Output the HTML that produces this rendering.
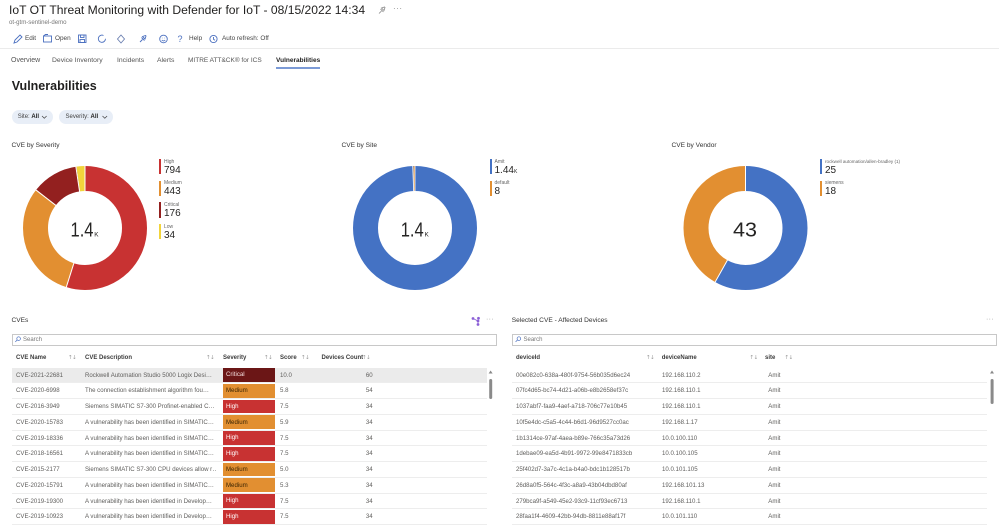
<!DOCTYPE html>
<html><head><meta charset="utf-8">
<style>
html,body{margin:0;padding:0;background:#fff;}
body{width:999px;height:526px;overflow:hidden;position:relative;font-family:"Liberation Sans","DejaVu Sans",sans-serif;}
.t{position:absolute;white-space:nowrap;}
.row{position:absolute;height:15.75px;border-bottom:1px solid #ededed;box-sizing:border-box;font-size:6.1px;color:#5f5e5c;}
.row span{position:absolute;top:0;line-height:15px;white-space:nowrap;}
.hd{position:absolute;font-size:6px;font-weight:bold;color:#3b3b3b;line-height:10px;top:353px;white-space:nowrap;}
.so{position:absolute;font-size:5.5px;color:#999;line-height:10px;top:353px;font-family:"DejaVu Sans",sans-serif;letter-spacing:-0.5px;}
.row span.bd{top:0.7px;height:13.6px;width:52px;line-height:normal;display:flex;align-items:center;padding-left:3px;box-sizing:border-box;}
.cr{background:#6b1616;color:#f3dede;}
.md{background:#e28f31;color:#3b2503;}
.hi{background:#c83232;color:#fff;}
.lg{position:absolute;font-size:5px;color:#666;line-height:6px;white-space:nowrap;}
.lv{position:absolute;font-size:10px;color:#252423;line-height:10px;white-space:nowrap;}
.bar{position:absolute;width:2px;height:15.3px;}
</style></head><body>

<!-- Header -->
<div class="t" style="left:9px;top:3px;font-size:12.1px;line-height:14px;color:#201f1e;">IoT OT Threat Monitoring with Defender for IoT - 08/15/2022 14:34</div>
<div class="t" style="left:9px;top:18.5px;font-size:6.1px;line-height:7px;color:#777;">ot-gtm-sentinel-demo</div>
<div class="t" style="left:393px;top:4px;font-size:8px;line-height:10px;color:#888;letter-spacing:0.5px;">···</div>

<!-- toolbar text -->
<div class="t" style="left:25px;top:35px;font-size:6.4px;line-height:8px;color:#444;">Edit</div>
<div class="t" style="left:55px;top:35px;font-size:6.4px;line-height:8px;color:#444;">Open</div>
<div class="t" style="left:177.5px;top:33.5px;font-size:9px;line-height:11px;color:#4a6fbf;">?</div>
<div class="t" style="left:189px;top:35px;font-size:6.4px;line-height:8px;color:#444;">Help</div>
<div class="t" style="left:222px;top:35px;font-size:6.4px;line-height:8px;color:#444;">Auto refresh: Off</div>
<div style="position:absolute;left:0;top:47.5px;width:999px;height:1px;background:#ebebeb;"></div>

<!-- tabs -->
<div class="t" style="left:11px;top:57px;font-size:7px;line-height:8px;color:#555;">Overview</div>
<div class="t" style="left:52px;top:57px;font-size:6.8px;line-height:8px;color:#555;">Device Inventory</div>
<div class="t" style="left:117px;top:57px;font-size:6.8px;line-height:8px;color:#555;">Incidents</div>
<div class="t" style="left:157px;top:57px;font-size:6.8px;line-height:8px;color:#555;">Alerts</div>
<div class="t" style="left:188px;top:57px;font-size:6.5px;line-height:8px;color:#555;">MITRE ATT&amp;CK® for ICS</div>
<div class="t" style="left:276px;top:57px;font-size:6.5px;line-height:8px;color:#222;font-weight:bold;">Vulnerabilities</div>
<div style="position:absolute;left:276px;top:67px;width:44px;height:1.5px;background:#7b9ad6;"></div>

<!-- heading -->
<div class="t" style="left:11.7px;top:79px;font-size:12.5px;line-height:15px;color:#201f1e;font-weight:bold;">Vulnerabilities</div>

<!-- pills -->
<div style="position:absolute;left:11.7px;top:110px;width:41.6px;height:14.3px;border-radius:7px;background:#e8eef7;"></div>
<div class="t" style="left:17.7px;top:113.5px;font-size:6px;line-height:7px;color:#444;">Site: <b style="color:#222">All</b></div>
<div style="position:absolute;left:59.3px;top:110px;width:54px;height:14.3px;border-radius:7px;background:#e8eef7;"></div>
<div class="t" style="left:65.5px;top:113.5px;font-size:6px;line-height:7px;color:#444;">Severity: <b style="color:#222">All</b></div>

<!-- chart titles -->
<div class="t" style="left:11.5px;top:142px;font-size:6.6px;line-height:8px;color:#333;">CVE by Severity</div>
<div class="t" style="left:341.5px;top:142px;font-size:6.6px;line-height:8px;color:#333;">CVE by Site</div>
<div class="t" style="left:671.5px;top:142px;font-size:6.6px;line-height:8px;color:#333;">CVE by Vendor</div>

<!-- legends severity -->
<div class="bar" style="left:159.3px;top:159px;background:#c83232;"></div>
<div class="lg" style="left:164px;top:158.7px;">High</div>
<div class="lv" style="left:164px;top:165.7px;">794</div>
<div class="bar" style="left:159.3px;top:180.7px;background:#e28f31;"></div>
<div class="lg" style="left:164px;top:180.4px;">Medium</div>
<div class="lv" style="left:164px;top:187.4px;">443</div>
<div class="bar" style="left:159.3px;top:202.4px;background:#93201f;"></div>
<div class="lg" style="left:164px;top:202.1px;">Critical</div>
<div class="lv" style="left:164px;top:209.1px;">176</div>
<div class="bar" style="left:159.3px;top:224.1px;background:#f2d43b;"></div>
<div class="lg" style="left:164px;top:223.8px;">Low</div>
<div class="lv" style="left:164px;top:230.8px;">34</div>

<!-- legends site -->
<div class="bar" style="left:489.5px;top:159px;background:#4472c4;"></div>
<div class="lg" style="left:494.5px;top:158.7px;">Amit</div>
<div class="lv" style="left:494.5px;top:165.7px;">1.44<span style="font-size:5px;">K</span></div>
<div class="bar" style="left:489.5px;top:180.7px;background:#e28f31;"></div>
<div class="lg" style="left:494.5px;top:180.4px;">default</div>
<div class="lv" style="left:494.5px;top:187.4px;">8</div>

<!-- legends vendor -->
<div class="bar" style="left:819.8px;top:159px;background:#4472c4;"></div>
<div class="lg" style="left:825px;top:158.7px;font-size:4.6px;">rockwell automation/allen-bradley (1)</div>
<div class="lv" style="left:825px;top:165.7px;">25</div>
<div class="bar" style="left:819.8px;top:180.7px;background:#e28f31;"></div>
<div class="lg" style="left:825px;top:180.4px;">siemens</div>
<div class="lv" style="left:825px;top:187.4px;">18</div>

<svg width="999" height="526" style="position:absolute;left:0;top:0;" xmlns="http://www.w3.org/2000/svg">
  <!-- toolbar icons -->
  <g fill="none" stroke="#4a6fbf" stroke-width="0.9">
    <path d="M14 43 L15 40 L20 35 L22 37 L17 42 Z"/>
    <rect x="43.5" y="36" width="8" height="6" />
    <path d="M43.5 36 L45.5 34.5 L48 34.5"/>
    <rect x="78.5" y="35" width="7.5" height="7.5"/>
    <rect x="80.5" y="35" width="3.5" height="2.5"/>
    <rect x="80" y="39.5" width="4.5" height="3"/>
    <path d="M105.5 38.8 A3.6 3.6 0 1 1 103.5 35.5"/>
    <path d="M121 35 L124.5 39 L121 43 L117.5 39 Z" stroke="#6a7fb0"/>
    <path d="M140 42 L142.5 39.5 M141.5 37.5 L144.5 40.5 M142.5 36.5 L145.5 35.5 L146 36 L145 39 Z"/>
    <circle cx="163.5" cy="39" r="3.8"/>
    <path d="M161.8 40 Q163.5 41.8 165.2 40"/>
    <circle cx="213.5" cy="39" r="3.6"/>
    <path d="M213.5 37 L213.5 39.2 L215 40.2"/>
  </g>
  <circle cx="162.2" cy="38" r="0.4" fill="#4a6fbf"/>
  <circle cx="164.8" cy="38" r="0.4" fill="#4a6fbf"/>
  <!-- title pin -->
  <path d="M379 13.5 L381.5 11 M380.5 9 L383.5 12 M381.5 8 L384.5 7 L385 7.5 L384 10.5 Z" fill="none" stroke="#888" stroke-width="0.8"/>
  <!-- pill chevrons -->
  <path d="M42 116 L44.3 118.3 L46.6 116" fill="none" stroke="#444" stroke-width="0.7"/>
  <path d="M102.5 116 L104.8 118.3 L107.1 116" fill="none" stroke="#444" stroke-width="0.7"/>

  <!-- Severity donut -->
  <g transform="rotate(-90 85 228)" fill="none" stroke-width="25">
    <circle cx="85" cy="228" r="49.5" stroke="#c83232" stroke-dasharray="170.66 400" stroke-dashoffset="0"/>
    <circle cx="85" cy="228" r="49.5" stroke="#e28f31" stroke-dasharray="95.22 400" stroke-dashoffset="-170.66"/>
    <circle cx="85" cy="228" r="49.5" stroke="#93201f" stroke-dasharray="37.83 400" stroke-dashoffset="-265.88"/>
    <circle cx="85" cy="228" r="49.5" stroke="#f2d43b" stroke-dasharray="7.31 400" stroke-dashoffset="-303.71"/>
    <g stroke="#fff" stroke-width="1">
      <line x1="121" y1="228" x2="148" y2="228" transform="rotate(0 85 228)"/>
      <line x1="121" y1="228" x2="148" y2="228" transform="rotate(197.54 85 228)"/>
      <line x1="121" y1="228" x2="148" y2="228" transform="rotate(307.76 85 228)"/>
      <line x1="121" y1="228" x2="148" y2="228" transform="rotate(351.54 85 228)"/>
    </g>
  </g>
  <text x="70.5" y="236.7" font-family="Liberation Sans, sans-serif" font-size="20" fill="#252423" textLength="23" lengthAdjust="spacingAndGlyphs">1.4</text>
  <text x="94.3" y="236.7" font-family="Liberation Sans, sans-serif" font-size="6.4" fill="#252423">K</text>

  <!-- Site donut -->
  <g transform="rotate(-90 415 228)" fill="none" stroke-width="25">
    <circle cx="415" cy="228" r="49.5" stroke="#4472c4" stroke-dasharray="309.30 400" stroke-dashoffset="0"/>
    <circle cx="415" cy="228" r="49.5" stroke="#e28f31" stroke-dasharray="1.72 400" stroke-dashoffset="-309.30"/>
    <g stroke="#fff" stroke-width="0.8">
      <line x1="451" y1="228" x2="478" y2="228" transform="rotate(0 415 228)"/>
      <line x1="451" y1="228" x2="478" y2="228" transform="rotate(357.9 415 228)"/>
    </g>
  </g>
  <text x="400.7" y="236.7" font-family="Liberation Sans, sans-serif" font-size="20" fill="#252423" textLength="23" lengthAdjust="spacingAndGlyphs">1.4</text>
  <text x="424.5" y="236.7" font-family="Liberation Sans, sans-serif" font-size="6.4" fill="#252423">K</text>

  <!-- Vendor donut -->
  <g transform="rotate(-90 745.5 228)" fill="none" stroke-width="25">
    <circle cx="745.5" cy="228" r="49.5" stroke="#4472c4" stroke-dasharray="180.83 400" stroke-dashoffset="0"/>
    <circle cx="745.5" cy="228" r="49.5" stroke="#e28f31" stroke-dasharray="130.19 400" stroke-dashoffset="-180.83"/>
    <g stroke="#fff" stroke-width="1">
      <line x1="781.5" y1="228" x2="808.5" y2="228" transform="rotate(0 745.5 228)"/>
      <line x1="781.5" y1="228" x2="808.5" y2="228" transform="rotate(209.3 745.5 228)"/>
    </g>
  </g>
  <text x="733" y="236.7" font-family="Liberation Sans, sans-serif" font-size="20" fill="#252423" textLength="24" lengthAdjust="spacingAndGlyphs">43</text>

  <!-- purple icon -->
  <g stroke="#8b5fd6" stroke-width="0.8" fill="#8b5fd6">
    <line x1="473" y1="318.5" x2="478" y2="321"/>
    <line x1="478" y1="321" x2="478" y2="324.5"/>
    <circle cx="473" cy="318.5" r="1"/>
    <circle cx="478.5" cy="318.3" r="1"/>
    <circle cx="478" cy="321" r="1"/>
    <circle cx="478" cy="324.5" r="1"/>
  </g>
  <!-- search icons -->
  <g fill="none" stroke="#4a6fbf" stroke-width="0.7">
    <circle cx="18.6" cy="338.6" r="1.8"/><line x1="17.3" y1="339.9" x2="15.3" y2="341.9"/>
    <circle cx="518.9" cy="338.6" r="1.8"/><line x1="517.6" y1="339.9" x2="515.6" y2="341.9"/>
  </g>
  <!-- scrollbars -->
  <path d="M488.6 373.5 L490.6 370.5 L492.6 373.5 Z" fill="#888"/>
  <rect x="489.2" y="379" width="3" height="20" rx="1.5" fill="#8a8a8a"/>
  <path d="M990 373.5 L992 370.5 L994 373.5 Z" fill="#888"/>
  <rect x="990.6" y="379" width="3" height="25" rx="1.5" fill="#8a8a8a"/>
</svg>

<!-- CVEs panel -->
<div class="t" style="left:11.5px;top:317px;font-size:6.6px;line-height:8px;color:#333;">CVEs</div>
<div class="t" style="left:486px;top:315px;font-size:7px;line-height:10px;color:#999;letter-spacing:0.3px;">···</div>
<div style="position:absolute;left:11.7px;top:334px;width:485px;height:11.7px;border:1px solid #c8c8c8;box-sizing:border-box;"></div>
<div class="t" style="left:23px;top:336px;font-size:6px;line-height:8px;color:#777;">Search</div>

<div class="hd" style="left:16px;">CVE Name</div><div class="so" style="left:68px;">↑↓</div>
<div class="hd" style="left:85px;">CVE Description</div><div class="so" style="left:206px;">↑↓</div>
<div class="hd" style="left:223px;">Severity</div><div class="so" style="left:264px;">↑↓</div>
<div class="hd" style="left:280px;">Score</div><div class="so" style="left:301px;">↑↓</div>
<div class="hd" style="left:321.5px;">Devices Count</div><div class="so" style="left:362px;">↑↓</div>

<div class="row" style="left:11.7px;top:367.5px;width:475.3px;background:#ebebeb;"><span style="left:4.3px">CVE-2021-22681</span><span style="left:73.3px;width:131px;overflow:hidden">Rockwell Automation Studio 5000 Logix Desi…</span><span class="bd cr" style="left:211.3px">Critical</span><span style="left:268.3px">10.0</span><span style="right:114.3px">60</span></div>
<div class="row" style="left:11.7px;top:383.25px;width:475.3px;"><span style="left:4.3px">CVE-2020-6998</span><span style="left:73.3px;width:131px;overflow:hidden">The connection establishment algorithm fou…</span><span class="bd md" style="left:211.3px">Medium</span><span style="left:268.3px">5.8</span><span style="right:114.3px">54</span></div>
<div class="row" style="left:11.7px;top:399px;width:475.3px;"><span style="left:4.3px">CVE-2016-3949</span><span style="left:73.3px;width:131px;overflow:hidden">Siemens SIMATIC S7-300 Profinet-enabled C…</span><span class="bd hi" style="left:211.3px">High</span><span style="left:268.3px">7.5</span><span style="right:114.3px">34</span></div>
<div class="row" style="left:11.7px;top:414.75px;width:475.3px;"><span style="left:4.3px">CVE-2020-15783</span><span style="left:73.3px;width:131px;overflow:hidden">A vulnerability has been identified in SIMATIC…</span><span class="bd md" style="left:211.3px">Medium</span><span style="left:268.3px">5.9</span><span style="right:114.3px">34</span></div>
<div class="row" style="left:11.7px;top:430.5px;width:475.3px;"><span style="left:4.3px">CVE-2019-18336</span><span style="left:73.3px;width:131px;overflow:hidden">A vulnerability has been identified in SIMATIC…</span><span class="bd hi" style="left:211.3px">High</span><span style="left:268.3px">7.5</span><span style="right:114.3px">34</span></div>
<div class="row" style="left:11.7px;top:446.25px;width:475.3px;"><span style="left:4.3px">CVE-2018-16561</span><span style="left:73.3px;width:131px;overflow:hidden">A vulnerability has been identified in SIMATIC…</span><span class="bd hi" style="left:211.3px">High</span><span style="left:268.3px">7.5</span><span style="right:114.3px">34</span></div>
<div class="row" style="left:11.7px;top:462px;width:475.3px;"><span style="left:4.3px">CVE-2015-2177</span><span style="left:73.3px;width:131px;overflow:hidden">Siemens SIMATIC S7-300 CPU devices allow r…</span><span class="bd md" style="left:211.3px">Medium</span><span style="left:268.3px">5.0</span><span style="right:114.3px">34</span></div>
<div class="row" style="left:11.7px;top:477.75px;width:475.3px;"><span style="left:4.3px">CVE-2020-15791</span><span style="left:73.3px;width:131px;overflow:hidden">A vulnerability has been identified in SIMATIC…</span><span class="bd md" style="left:211.3px">Medium</span><span style="left:268.3px">5.3</span><span style="right:114.3px">34</span></div>
<div class="row" style="left:11.7px;top:493.5px;width:475.3px;"><span style="left:4.3px">CVE-2019-19300</span><span style="left:73.3px;width:131px;overflow:hidden">A vulnerability has been identified in Develop…</span><span class="bd hi" style="left:211.3px">High</span><span style="left:268.3px">7.5</span><span style="right:114.3px">34</span></div>
<div class="row" style="left:11.7px;top:509.25px;width:475.3px;"><span style="left:4.3px">CVE-2019-10923</span><span style="left:73.3px;width:131px;overflow:hidden">A vulnerability has been identified in Develop…</span><span class="bd hi" style="left:211.3px">High</span><span style="left:268.3px">7.5</span><span style="right:114.3px">34</span></div>

<!-- Affected devices panel -->
<div class="t" style="left:511.7px;top:317px;font-size:6.6px;line-height:8px;color:#333;">Selected CVE - Affected Devices</div>
<div class="t" style="left:986px;top:315px;font-size:7px;line-height:10px;color:#999;letter-spacing:0.3px;">···</div>
<div style="position:absolute;left:511.7px;top:334px;width:485px;height:11.7px;border:1px solid #c8c8c8;box-sizing:border-box;"></div>
<div class="t" style="left:523.5px;top:336px;font-size:6px;line-height:8px;color:#777;">Search</div>

<div class="hd" style="left:516px;">deviceId</div><div class="so" style="left:646px;">↑↓</div>
<div class="hd" style="left:661.7px;">deviceName</div><div class="so" style="left:749.5px;">↑↓</div>
<div class="hd" style="left:765px;">site</div><div class="so" style="left:784.5px;">↑↓</div>

<div class="row" style="left:512px;top:367.5px;width:475px;"><span style="left:4px">00e082c0-638a-480f-9754-56b035d6ec24</span><span style="left:150px">192.168.110.2</span><span style="left:256.3px">Amit</span></div>
<div class="row" style="left:512px;top:383.25px;width:475px;"><span style="left:4px">07fc4d65-bc74-4d21-a06b-e8b2658ef37c</span><span style="left:150px">192.168.110.1</span><span style="left:256.3px">Amit</span></div>
<div class="row" style="left:512px;top:399px;width:475px;"><span style="left:4px">1037abf7-faa9-4aef-a718-706c77e10b45</span><span style="left:150px">192.168.110.1</span><span style="left:256.3px">Amit</span></div>
<div class="row" style="left:512px;top:414.75px;width:475px;"><span style="left:4px">10f5e4dc-c5a5-4c44-b6d1-96d9527cc0ac</span><span style="left:150px">192.168.1.17</span><span style="left:256.3px">Amit</span></div>
<div class="row" style="left:512px;top:430.5px;width:475px;"><span style="left:4px">1b1314ce-97af-4aea-b89e-766c35a73d26</span><span style="left:150px">10.0.100.110</span><span style="left:256.3px">Amit</span></div>
<div class="row" style="left:512px;top:446.25px;width:475px;"><span style="left:4px">1debae09-ea5d-4b91-9972-99e8471833cb</span><span style="left:150px">10.0.100.105</span><span style="left:256.3px">Amit</span></div>
<div class="row" style="left:512px;top:462px;width:475px;"><span style="left:4px">25f402d7-3a7c-4c1a-b4a0-bdc1b128517b</span><span style="left:150px">10.0.101.105</span><span style="left:256.3px">Amit</span></div>
<div class="row" style="left:512px;top:477.75px;width:475px;"><span style="left:4px">26d8a0f5-564c-4f3c-a8a9-43b04dbd80af</span><span style="left:150px">192.168.101.13</span><span style="left:256.3px">Amit</span></div>
<div class="row" style="left:512px;top:493.5px;width:475px;"><span style="left:4px">279bca9f-a549-45e2-93c9-11cf93ec6713</span><span style="left:150px">192.168.110.1</span><span style="left:256.3px">Amit</span></div>
<div class="row" style="left:512px;top:509.25px;width:475px;"><span style="left:4px">28faa1f4-4609-42bb-94db-8811e88af17f</span><span style="left:150px">10.0.101.110</span><span style="left:256.3px">Amit</span></div>

</body></html>
